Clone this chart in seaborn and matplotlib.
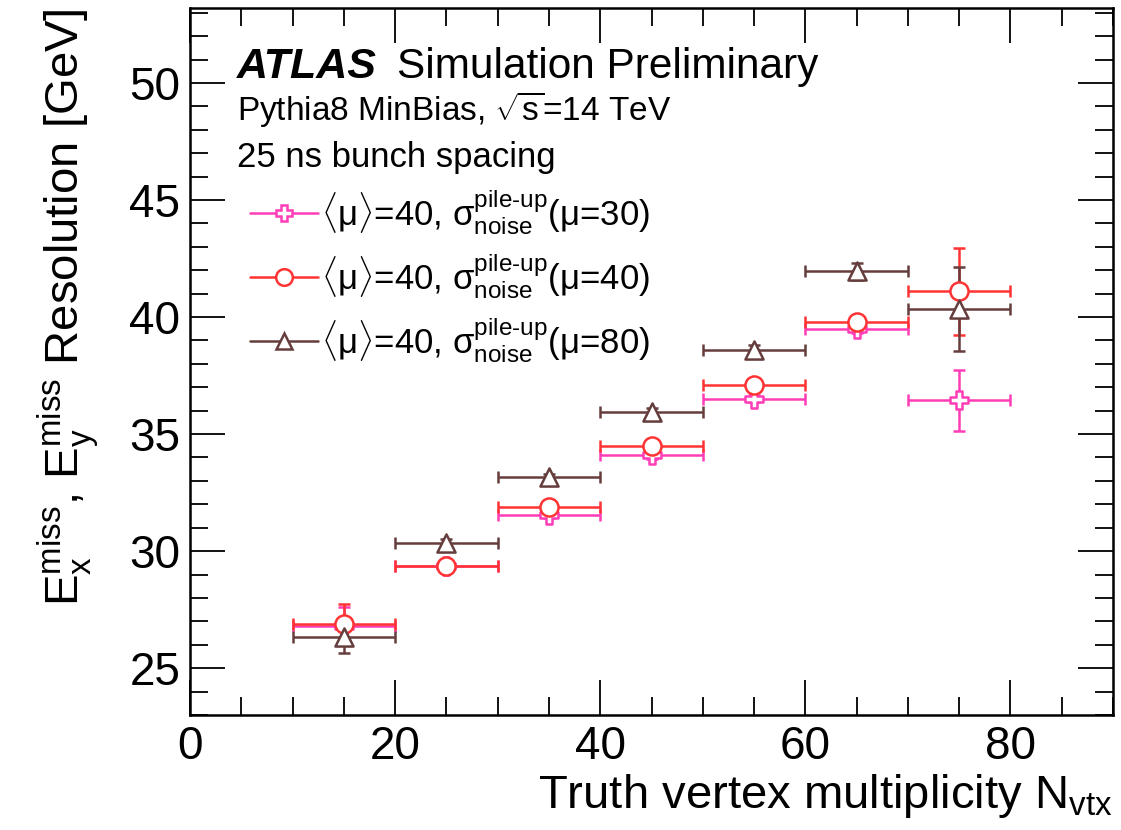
import numpy as np
import pandas as pd
import matplotlib
matplotlib.use("Agg")
import matplotlib.pyplot as plt
import seaborn as sns
from matplotlib.ticker import MultipleLocator
from matplotlib.lines import Line2D

# ---- data ----
nvtx = [15, 25, 35, 45, 55, 65, 75]
nvtx_halfwidth = [5, 5, 5, 5, 5, 5, 5]
res_mu30 = [26.8, 29.35, 31.55, 34.1, 36.5, 39.5, 36.45]
err_mu30 = [0.8, 0.15, 0.15, 0.15, 0.15, 0.2, 1.3]
res_mu40 = [26.9, 29.35, 31.9, 34.5, 37.1, 39.8, 41.1]
err_mu40 = [0.85, 0.15, 0.15, 0.15, 0.2, 0.25, 1.85]
res_mu80 = [26.35, 30.35, 33.15, 35.95, 38.6, 41.95, 40.35]
err_mu80 = [0.7, 0.15, 0.15, 0.15, 0.2, 0.35, 1.8]
sig = r"$\mathrm{\sigma}^{\mathrm{pile\text{-}up}}_{\mathrm{noise}}$"
labels = [r"$\langle\mathrm{\mu}\rangle$=40, " + sig + "(μ=30)",
          r"$\langle\mathrm{\mu}\rangle$=40, " + sig + "(μ=40)",
          r"$\langle\mathrm{\mu}\rangle$=40, " + sig + "(μ=80)"]

sns.set_theme(style="ticks")
plt.rcParams['font.family'] = ['Liberation Sans', 'DejaVu Sans']
plt.rcParams['mathtext.fontset'] = 'custom'
plt.rcParams['mathtext.rm'] = 'Liberation Sans'
plt.rcParams['mathtext.it'] = 'Liberation Sans:italic'
plt.rcParams['mathtext.bf'] = 'Liberation Sans:bold'
plt.rcParams['mathtext.sf'] = 'Liberation Sans'
plt.rcParams['text.color'] = 'black'
plt.rcParams['axes.labelcolor'] = 'black'
plt.rcParams['xtick.color'] = 'black'
plt.rcParams['ytick.color'] = 'black'

fig = plt.figure(figsize=(11.21, 8.30), dpi=100)
ax = fig.add_axes([190/1121, 1-715/830, (1113-190)/1121, (715-8)/830])

colors = ['#FF3DB8', '#FF3333', '#663D3D']
markers = ['P', 'o', '^']
series = [(res_mu30, err_mu30), (res_mu40, err_mu40), (res_mu80, err_mu80)]

handles = []
for (vals, errs), c, m, lab in zip(series, colors, markers, labels):
    ax.errorbar(nvtx, vals, xerr=nvtx_halfwidth, yerr=errs, fmt='none',
                ecolor=c, elinewidth=1.8, capsize=4, capthick=1.8, zorder=2)
    df = pd.DataFrame({'x': nvtx, 'y': vals})
    sns.scatterplot(data=df, x='x', y='y', ax=ax, marker=m, s=170,
                    facecolor='white', edgecolor=c, linewidth=1.8, zorder=3)
    handles.append(Line2D([], [], color=c, marker=m, mfc='white', mec=c, mew=1.8,
                          ms=12, lw=1.8, label=lab))

ax.set_xlim(0, 90)
ax.set_ylim(23, 53.2)
ax.xaxis.set_major_locator(MultipleLocator(20))
ax.xaxis.set_minor_locator(MultipleLocator(5))
ax.yaxis.set_major_locator(MultipleLocator(5))
ax.yaxis.set_minor_locator(MultipleLocator(1))
ax.tick_params(which='both', direction='in', top=True, right=True,
               width=1.3, labelsize=33)
ax.tick_params(which='major', length=25, pad=7)
ax.tick_params(which='minor', length=13)
for sp in ax.spines.values():
    sp.set_linewidth(1.8)
    sp.set_color('black')

ax.set_xlabel(r"Truth vertex multiplicity N$_{\mathrm{vtx}}$", fontsize=34,
              loc='right', labelpad=2)
ax.set_ylabel(r"E$_{\mathrm{x}}^{\mathrm{miss}}$, E$_{\mathrm{y}}^{\mathrm{miss}}$ Resolution [GeV]",
              fontsize=34, loc='top', labelpad=20)

tx = (237-190)/923
ax.text(tx, (715-78)/707, "ATLAS", fontsize=31, fontweight='bold', fontstyle='italic',
        transform=ax.transAxes, va='baseline')
ax.text((397-190)/923, (715-78)/707, "Simulation Preliminary", fontsize=30.5,
        transform=ax.transAxes, va='baseline')
ax.text(tx, (715-120)/707, "Pythia8 MinBias, $\\sqrt{\\mathrm{s}}$=14 TeV", fontsize=24,
        transform=ax.transAxes, va='baseline')
ax.text(tx, (715-167)/707, "25 ns bunch spacing", fontsize=25,
        transform=ax.transAxes, va='baseline')

leg = ax.legend(handles=handles, loc='upper left',
                bbox_to_anchor=((250-190)/923, (715-187)/707),
                frameon=False, fontsize=25, handlelength=1.95, handletextpad=0.1,
                labelspacing=0.42, borderaxespad=0, borderpad=0)

fig.savefig('out.png', dpi=100)
